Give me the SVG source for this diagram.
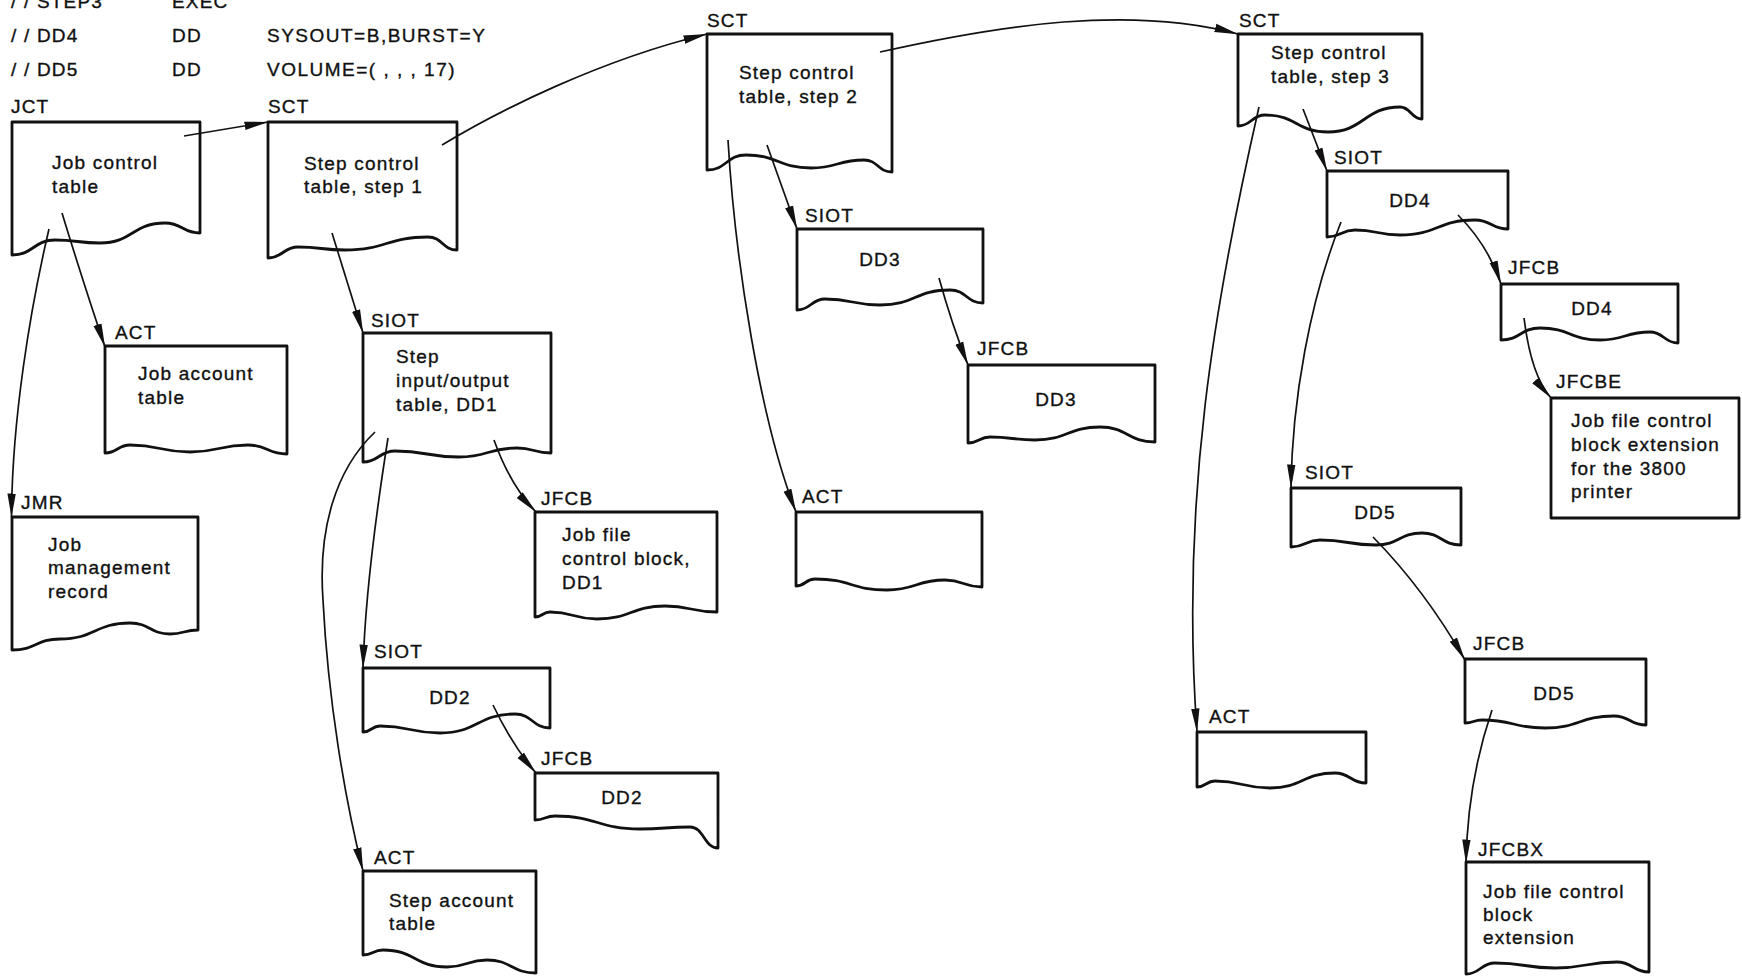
<svg xmlns="http://www.w3.org/2000/svg" width="1742" height="980" viewBox="0 0 1742 980">
<style>
.bx{fill:#fff;stroke:#111;stroke-width:2.8;stroke-linejoin:round}
.cn{fill:none;stroke:#111;stroke-width:1.7}
text{font-family:"Liberation Sans",Arial,sans-serif;font-size:19px;fill:#111;stroke:#111;stroke-width:0.35px;letter-spacing:1.2px}
.m{text-anchor:middle}
.w{letter-spacing:1.5px}
</style>
<defs>
<marker id="ah" markerUnits="userSpaceOnUse" markerWidth="24" markerHeight="10" viewBox="0 0 24 10" refX="23.5" refY="5" orient="auto">
<path d="M0,0.8 L24,5 L0,9.2 Z" fill="#111"/>
</marker>
</defs>
<rect width="1742" height="980" fill="#fff"/>
<g id="jcl">
<text x="11" y="8">/ / STEP3</text><text x="172" y="8">EXEC</text>
<text x="11" y="42">/ / DD4</text><text x="172" y="42">DD</text><text class="w" x="267" y="42">SYSOUT=B,BURST=Y</text>
<text x="11" y="76">/ / DD5</text><text x="172" y="76">DD</text><text class="w" x="267" y="76">VOLUME=( , , , 17)</text>
</g>
<g id="jct">
<path class="bx" d="M12,122 H200 V233 C182.5,233 182.5,223 165,223 C132.5,223 132.5,243 100,243 C77.5,243 77.5,240 55,240 C33.5,240 33.5,255 12,255 Z"/>
<text x="11" y="113">JCT</text><text x="52" y="169">Job control</text><text x="52" y="193">table</text>
</g>
<g id="sct1">
<path class="bx" d="M268,122 H457 V250 C442.5,250 442.5,237 428,237 C386.5,237 386.5,250 345,250 C321.5,250 321.5,247 298,247 C283,247 283,258 268,258 Z"/>
<text x="268" y="113">SCT</text><text x="304" y="170">Step control</text><text x="304" y="193">table, step 1</text>
</g>
<g id="act-job">
<path class="bx" d="M105,346 H287 V454 C267.5,454 267.5,445 248,445 C219,445 219,452 190,452 C160,452 160,445 130,445 C117.5,445 117.5,453 105,453 Z"/>
<text x="115" y="339">ACT</text><text x="138" y="380">Job account</text><text x="138" y="404">table</text>
</g>
<g id="jmr">
<path class="bx" d="M12,517 H198 V630 C184,630 184,634 170,634 C150,634 150,623 130,623 C95,623 95,639 60,639 C36,639 36,650 12,650 Z"/>
<text x="21" y="509">JMR</text><text x="48" y="551">Job</text><text x="48" y="574">management</text><text x="48" y="598">record</text>
</g>
<g id="siot-dd1">
<path class="bx" d="M363,333 H551 V453 C534,453 534,448 517,448 C488,448 488,457 459,457 C427,457 427,451 395,451 C379,451 379,462 363,462 Z"/>
<text x="371" y="327">SIOT</text><text x="396" y="363">Step</text><text x="396" y="387">input/output</text><text x="396" y="411">table, DD1</text>
</g>
<g id="jfcb-dd1">
<path class="bx" d="M535,512 H717 V612 C691,612 691,606 665,606 C631,606 631,619 597,619 C573.5,619 573.5,612 550,612 C542.5,612 542.5,617 535,617 Z"/>
<text x="541" y="505">JFCB</text><text x="562" y="541">Job file</text><text x="562" y="565">control block,</text><text x="562" y="589">DD1</text>
</g>
<g id="siot-dd2">
<path class="bx" d="M363,668 H550 V728 C532.5,728 532.5,714 515,714 C477.5,714 477.5,733 440,733 C410,733 410,726 380,726 C371.5,726 371.5,732 363,732 Z"/>
<text x="374" y="658">SIOT</text><text class="m" x="450" y="704">DD2</text>
</g>
<g id="jfcb-dd2">
<path class="bx" d="M535,773 H718 V848 C704,848 704,827 690,827 C665,827 665,829 640,829 C597.5,829 597.5,816 555,816 C545,816 545,820 535,820 Z"/>
<text x="541" y="765">JFCB</text><text class="m" x="622" y="804">DD2</text>
</g>
<g id="act-step1">
<path class="bx" d="M363,871 H536 V973 C511.5,973 511.5,960 487,960 C467,960 467,967 447,967 C415,967 415,950 383,950 C373,950 373,955 363,955 Z"/>
<text x="374" y="864">ACT</text><text x="389" y="907">Step account</text><text x="389" y="930">table</text>
</g>
<g id="sct2">
<path class="bx" d="M707,34 H892 V172 C878,172 878,160 864,160 C837.5,160 837.5,168 811,168 C778.5,168 778.5,155 746,155 C726.5,155 726.5,170 707,170 Z"/>
<text x="707" y="27">SCT</text><text x="739" y="79">Step control</text><text x="739" y="103">table, step 2</text>
</g>
<g id="siot-dd3">
<path class="bx" d="M797,229 H983 V303 C966.5,303 966.5,290 950,290 C915,290 915,305 880,305 C852.5,305 852.5,299 825,299 C811,299 811,310 797,310 Z"/>
<text x="805" y="222">SIOT</text><text class="m" x="880" y="266">DD3</text>
</g>
<g id="jfcb-dd3">
<path class="bx" d="M968,365 H1155 V442 C1127.5,442 1127.5,427 1100,427 C1067.5,427 1067.5,440 1035,440 C1012.5,440 1012.5,437 990,437 C979,437 979,443 968,443 Z"/>
<text x="977" y="355">JFCB</text><text class="m" x="1056" y="406">DD3</text>
</g>
<g id="act-step2">
<path class="bx" d="M796,512 H982 V587 C963.5,587 963.5,580 945,580 C916,580 916,590 887,590 C851,590 851,579 815,579 C805.5,579 805.5,586 796,586 Z"/>
<text x="802" y="503">ACT</text>
</g>
<g id="sct3">
<path class="bx" d="M1238,34 H1422 V119 C1411,119 1411,107 1400,107 C1364,107 1364,132 1328,132 C1296.5,132 1296.5,115 1265,115 C1251.5,115 1251.5,126 1238,126 Z"/>
<text x="1239" y="27">SCT</text><text x="1271" y="59">Step control</text><text x="1271" y="83">table, step 3</text>
</g>
<g id="siot-dd4">
<path class="bx" d="M1327,171 H1508 V229 C1491.5,229 1491.5,220 1475,220 C1437.5,220 1437.5,235 1400,235 C1377.5,235 1377.5,230 1355,230 C1341,230 1341,237 1327,237 Z"/>
<text x="1334" y="164">SIOT</text><text class="m" x="1410" y="207">DD4</text>
</g>
<g id="jfcb-dd4">
<path class="bx" d="M1501,284 H1678 V343 C1664,343 1664,332 1650,332 C1625,332 1625,340 1600,340 C1570,340 1570,328 1540,328 C1520.5,328 1520.5,340 1501,340 Z"/>
<text x="1508" y="274">JFCB</text><text class="m" x="1592" y="315">DD4</text>
</g>
<g id="jfcbe">
<rect class="bx" x="1551" y="398" width="188" height="120"/>
<text x="1556" y="388">JFCBE</text><text x="1571" y="427">Job file control</text><text x="1571" y="451">block extension</text><text x="1571" y="475">for the 3800</text><text x="1571" y="498">printer</text>
</g>
<g id="siot-dd5">
<path class="bx" d="M1291,488 H1461 V545 C1441.5,545 1441.5,533 1422,533 C1399,533 1399,545 1376,545 C1348,545 1348,540 1320,540 C1305.5,540 1305.5,547 1291,547 Z"/>
<text x="1305" y="479">SIOT</text><text class="m" x="1375" y="519">DD5</text>
</g>
<g id="jfcb-dd5">
<path class="bx" d="M1465,659 H1646 V725 C1630,725 1630,716 1614,716 C1579.5,716 1579.5,728 1545,728 C1513.5,728 1513.5,720 1482,720 C1473.5,720 1473.5,723 1465,723 Z"/>
<text x="1473" y="650">JFCB</text><text class="m" x="1554" y="700">DD5</text>
</g>
<g id="act-step3">
<path class="bx" d="M1197,732 H1366 V783 C1350.5,783 1350.5,773 1335,773 C1302.5,773 1302.5,788 1270,788 C1242.5,788 1242.5,781 1215,781 C1206,781 1206,787 1197,787 Z"/>
<text x="1209" y="723">ACT</text>
</g>
<g id="jfcbx">
<path class="bx" d="M1466,862 H1649 V972 C1633,972 1633,962 1617,962 C1586,962 1586,968 1555,968 C1525,968 1525,963 1495,963 C1480.5,963 1480.5,974 1466,974 Z"/>
<text x="1478" y="856">JFCBX</text><text x="1483" y="898">Job file control</text><text x="1483" y="921">block</text><text x="1483" y="944">extension</text>
</g>
<g id="connectors">
<path class="cn" marker-end="url(#ah)" d="M184,136 L268,122"/>
<path class="cn" marker-end="url(#ah)" d="M442,145 C500,110 600,60 707,34"/>
<path class="cn" marker-end="url(#ah)" d="M880,52 C1000,25 1130,5 1238,34"/>
<path class="cn" marker-end="url(#ah)" d="M62,213 Q84,285 105,347"/>
<path class="cn" marker-end="url(#ah)" d="M49,229 C30,310 12,420 11.5,517"/>
<path class="cn" marker-end="url(#ah)" d="M332,233 L363,333"/>
<path class="cn" marker-end="url(#ah)" d="M494,440 Q510,485 536,512"/>
<path class="cn" marker-end="url(#ah)" d="M388,438 C375,520 365,600 363,668"/>
<path class="cn" marker-end="url(#ah)" d="M375,432 C335,470 318,530 323,600 C328,700 345,800 363,871"/>
<path class="cn" marker-end="url(#ah)" d="M493,705 Q512,745 536,773"/>
<path class="cn" marker-end="url(#ah)" d="M767,145 L797,229"/>
<path class="cn" marker-end="url(#ah)" d="M939,278 Q952,325 968,365"/>
<path class="cn" marker-end="url(#ah)" d="M728,140 C735,260 760,420 796,512"/>
<path class="cn" marker-end="url(#ah)" d="M1303,109 L1327,171"/>
<path class="cn" marker-end="url(#ah)" d="M1458,215 Q1488,245 1501,284"/>
<path class="cn" marker-end="url(#ah)" d="M1524,318 C1528,350 1535,380 1551,398"/>
<path class="cn" marker-end="url(#ah)" d="M1341,222 C1310,300 1292,400 1291,488"/>
<path class="cn" marker-end="url(#ah)" d="M1373,537 Q1425,590 1465,660"/>
<path class="cn" marker-end="url(#ah)" d="M1492,710 C1475,760 1467,810 1466,863"/>
<path class="cn" marker-end="url(#ah)" d="M1259,107 C1215,300 1180,500 1197,732"/>
</g>
</svg>
